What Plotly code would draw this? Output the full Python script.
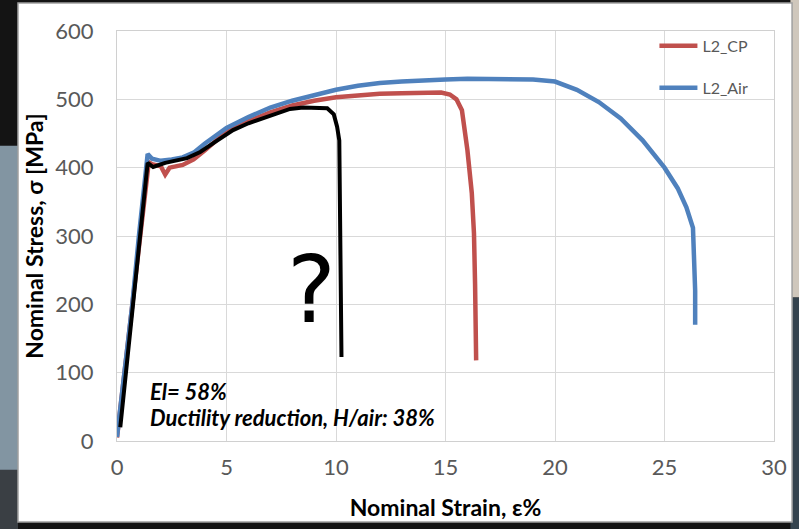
import plotly.graph_objects as go

# ---- data ----
cp_strain = [0, 0.3, 0.7, 1.0, 1.3, 1.45, 1.6, 2.0, 2.2, 2.4, 3.0, 3.5, 4.0, 5.0, 6.0, 7.0,
             8.0, 9.0, 10.0, 11.0, 12.0, 13.0, 14.0, 14.8, 15.2, 15.5, 15.75, 15.9, 16.0,
             16.2, 16.3, 16.35, 16.4]
cp_stress = [5, 90, 200, 290, 370, 408, 405, 402, 390, 400, 404, 412, 425, 453, 468, 481,
             491, 498, 503, 506, 508, 509, 510, 510, 507, 500, 484, 455, 426,
             363, 304, 230, 118]

air_strain = [0, 0.3, 0.7, 1.0, 1.25, 1.4, 1.6, 2.0, 2.5, 3.0, 3.5, 4.0, 5.0, 6.0, 7.0, 8.0,
              9.0, 10.0, 11.0, 12.0, 13.0, 14.0, 15.0, 16.0, 17.0, 18.0, 19.0, 20.0, 21.0,
              22.0, 23.0, 24.0, 25.0, 25.6, 26.0, 26.3, 26.35, 26.4, 26.4]
air_stress = [6, 90, 200, 300, 380, 420, 413, 410, 412, 415, 422, 435, 458, 474, 488, 498,
              506, 514, 520, 524, 526, 528, 529, 530, 530, 530, 529, 526, 514,
              496, 472, 440, 400, 370, 342, 312, 280, 220, 170]

hand_strain = [0.15, 1.4, 1.65, 2.2, 3.2, 3.8, 4.5, 5.3, 6.0, 6.85, 7.4, 7.9, 8.5, 9.6,
               9.9, 10.05, 10.15, 10.2, 10.25]
hand_stress = [20, 407, 401, 407, 414, 423, 438, 455, 465, 474, 481, 486, 488, 487,
               478, 460, 440, 300, 123]

x_ticks = [0, 5, 10, 15, 20, 25, 30]
y_ticks = [0, 100, 200, 300, 400, 500, 600]

FONT = "Lato"
RED = "#C0504D"
BLUE = "#4F81BD"

fig = go.Figure()
fig.add_trace(go.Scatter(x=cp_strain, y=cp_stress, mode="lines", name="L2_CP",
                         line=dict(color=RED, width=4.5), legendgroup="a"))
fig.add_trace(go.Scatter(x=air_strain, y=air_stress, mode="lines", name="L2_Air",
                         line=dict(color=BLUE, width=4.5), legendgroup="b"))
fig.add_trace(go.Scatter(x=hand_strain, y=hand_stress, mode="lines", showlegend=False,
                         line=dict(color="black", width=4)))

# chart card and slide background
shapes = [
    dict(type="rect", xref="paper", yref="paper", x0=-0.19, x1=-0.1507, y0=-0.27, y1=0.72,
         fillcolor="#8295a2", line_width=0, layer="below"),
    dict(type="rect", xref="paper", yref="paper", x0=-0.19, x1=-0.1507, y0=-0.27, y1=-0.07,
         fillcolor="#3a3f44", line_width=0, layer="below"),
    dict(type="rect", xref="paper", yref="paper", x0=1.025, x1=1.06, y0=0.35, y1=1.1,
         fillcolor="#cfc7bc", line_width=0, layer="below"),
    dict(type="rect", xref="paper", yref="paper", x0=1.025, x1=1.06, y0=-0.27, y1=0.35,
         fillcolor="#34434e", line_width=0, layer="below"),
    dict(type="rect", xref="paper", yref="paper", x0=-0.1507, x1=1.0275, y0=-0.1976, y1=1.0683,
         fillcolor="white", line=dict(color="#a0a0a0", width=1.5), layer="below"),
]

annotations = [
    dict(text="<b><i>El= 58%</i></b>", xref="x", yref="y", x=1.4, y=73, xanchor="left",
         yanchor="middle", showarrow=False, font=dict(family=FONT, size=22, color="black")),
    dict(text="<b><i>Ductility reduction, H/air: 38%</i></b>", xref="x", yref="y", x=1.4, y=35,
         xanchor="left", yanchor="middle", showarrow=False,
         font=dict(family=FONT, size=22, color="black")),
    dict(text="?", xref="x", yref="y", x=8.9, y=220, xanchor="center", yanchor="middle",
         showarrow=False, font=dict(family="DejaVu Sans", size=92, color="black")),
]

axis_common = dict(showgrid=True, gridcolor="#d9d9d9", gridwidth=1.3, zeroline=False,
                   showline=True, linecolor="#d0d0d0", linewidth=1.3, mirror=True,
                   ticks="", tickfont=dict(family=FONT, size=22, color="#595959"),
                   automargin=False)

fig.update_layout(
    width=799, height=529,
    margin=dict(l=117, r=25, t=31, b=88),
    paper_bgcolor="#141414", plot_bgcolor="white",
    shapes=shapes, annotations=annotations,
    xaxis=dict(range=[0, 30], tickvals=x_ticks, ticktext=[str(v) for v in x_ticks],
               ticklabelstandoff=6,
               title=dict(text="<b>Nominal Strain, ε%</b>", standoff=21,
                          font=dict(family=FONT, size=23, color="black")),
               **axis_common),
    yaxis=dict(range=[0, 600], tickvals=y_ticks, ticktext=[str(v) for v in y_ticks],
               ticklabelstandoff=18,
               title=dict(text="<b>Nominal Stress, σ [MPa]</b>", standoff=5,
                          font=dict(family=FONT, size=23, color="black")),
               **axis_common),
    legend=dict(x=0.818, y=1.005, xanchor="left", yanchor="top", bgcolor="rgba(0,0,0,0)",
                font=dict(family=FONT, size=16, color="#595959"),
                traceorder="grouped", tracegroupgap=18, itemwidth=38),
    showlegend=True,
)

fig.write_html("out.html", config={"displayModeBar": False},
               post_script="document.body.style.margin='0px';")
